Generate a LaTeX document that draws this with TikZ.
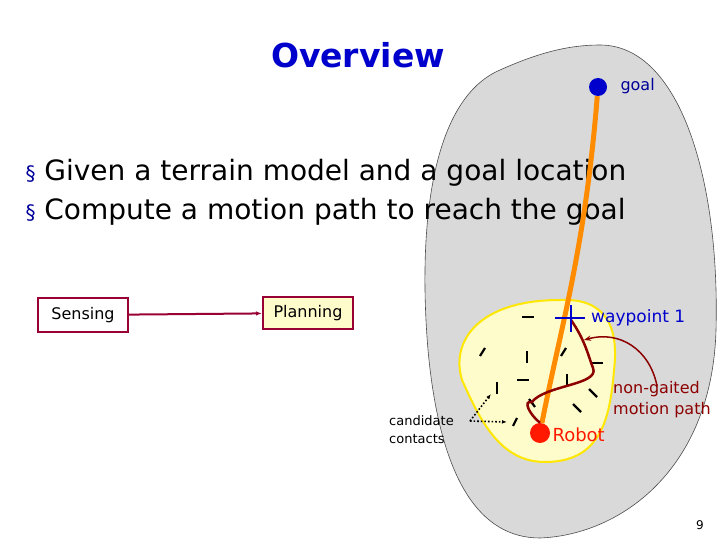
\documentclass[tikz,border=0pt]{standalone}
\usepackage{fontspec}
\setmainfont{DejaVu Sans}
\usetikzlibrary{arrows.meta}
\begin{document}
\begin{tikzpicture}[x=1pt,y=-1pt,
  box/.style={draw=purple!80!black,line width=2pt,inner sep=4pt,minimum height=34pt,font=\fontsize{16}{18}\selectfont},
  dsh/.style={line width=2.2pt},
  txt/.style={font=\fontsize{28}{32}\selectfont,anchor=west}]
\useasboundingbox (0,0) rectangle (720,540);
% gray blob
\fill[gray!30,draw=black!70,line width=0.6pt] (600,45) .. controls (680,45) and (720,180) .. (716,330)
  .. controls (712,470) and (620,535) .. (540,538) .. controls (480,538) and (440,480) .. (428,350)
  .. controls (418,230) and (430,100) .. (500,70) .. controls (540,52) and (570,45) .. (600,45);
% yellow blob
\fill[yellow!20,draw=yellow!90!orange,line width=2pt] (560,300) .. controls (600,298) and (620,320) .. (614,370)
  .. controls (610,420) and (600,462) .. (545,462) .. controls (500,462) and (480,420) .. (462,380)
  .. controls (450,340) and (480,300) .. (560,300);
\node[font=\bfseries\fontsize{33}{38}\selectfont,text=blue!80!black] (title) at (358,55) {Overview};
\node[txt] (b1) at (22,173) {\textcolor{blue!60!black}{\fontsize{20}{20}\selectfont\S} Given a terrain model and a goal location};
\node[txt] (b2) at (22,212) {\textcolor{blue!60!black}{\fontsize{20}{20}\selectfont\S} Compute a motion path to reach the goal};
\node[box,minimum width=90pt] (sense) at (83,315) {Sensing};
\node[box,fill=yellow!20,minimum width=90pt,minimum height=32pt] (plan) at (308,313) {Planning};
\draw[purple!80!black,line width=2pt,-{Latex[length=6pt]}] (sense) -- (plan);
% orange path
\node[circle,fill=blue!80!black,minimum size=18pt,inner sep=0] (goal) at (598,87) {};
\node[circle,fill=red!80!orange,minimum size=20pt,inner sep=0] (robot) at (540,433) {};
\draw[orange!90!yellow,line width=5pt] (goal) .. controls (585,250) and (560,330) .. (robot);
\node[anchor=west,font=\fontsize{16}{18}\selectfont,text=blue!60!black] (gl) at (617,86) {goal};
\node[anchor=west,font=\fontsize{18}{20}\selectfont,text=red!80!orange] (rl) at (549,435) {Robot};
% dashes
\draw[dsh] (522,317)--(534,317);
\draw[dsh] (480,356)--(485,348);
\draw[dsh] (527,351)--(527,363);
\draw[dsh] (561,356)--(566,348);
\draw[dsh] (591,363)--(603,363);
\draw[dsh] (517,380)--(529,380);
\draw[dsh] (567,374)--(567,386);
\draw[dsh] (497,382)--(497,394);
\draw[dsh] (589,389)--(597,397);
\draw[dsh] (529,399)--(535,407);
\draw[dsh] (573,404)--(581,412);
\draw[dsh] (513,426)--(517,418);
% red path
\coordinate (wp) at (571,320);
\draw[red!55!black,line width=2.5pt] (robot.north) .. controls (530,415) and (522,400) .. (532,402)
  .. controls (545,385) and (600,385) .. (593,368) .. controls (588,355) and (585,340) .. (wp);
% waypoint cross
\draw[blue!80!black,line width=2.5pt] (555,318)--(585,318) (571,305)--(571,332);
\node[anchor=west,font=\fontsize{17}{19}\selectfont,text=blue!80!black,inner sep=1pt] (wl) at (590,318) {waypoint 1};
\node[align=left,anchor=west,font=\fontsize{16}{21}\selectfont,text=red!55!black,inner sep=0] (ng) at (613,400) {non-gaited\\motion path};
\draw[red!55!black,line width=1.5pt,-{Stealth[length=7pt]}] (657,386) .. controls (650,350) and (620,330) .. (584,340);
% candidate contacts
\node[align=left,anchor=west,font=\fontsize{13}{18}\selectfont,inner sep=0] (cc) at (389,430) {candidate\\contacts};
\coordinate (c0) at (470,421);
\draw[dotted,line width=1.6pt,-{Latex[length=5pt]}] (c0) -- (491,394);
\draw[dotted,line width=1.6pt,-{Latex[length=5pt]}] (c0) -- (507,422);
\node[font=\fontsize{12}{14}\selectfont] (pg) at (700,525) {9};
\end{tikzpicture}
\end{document}
